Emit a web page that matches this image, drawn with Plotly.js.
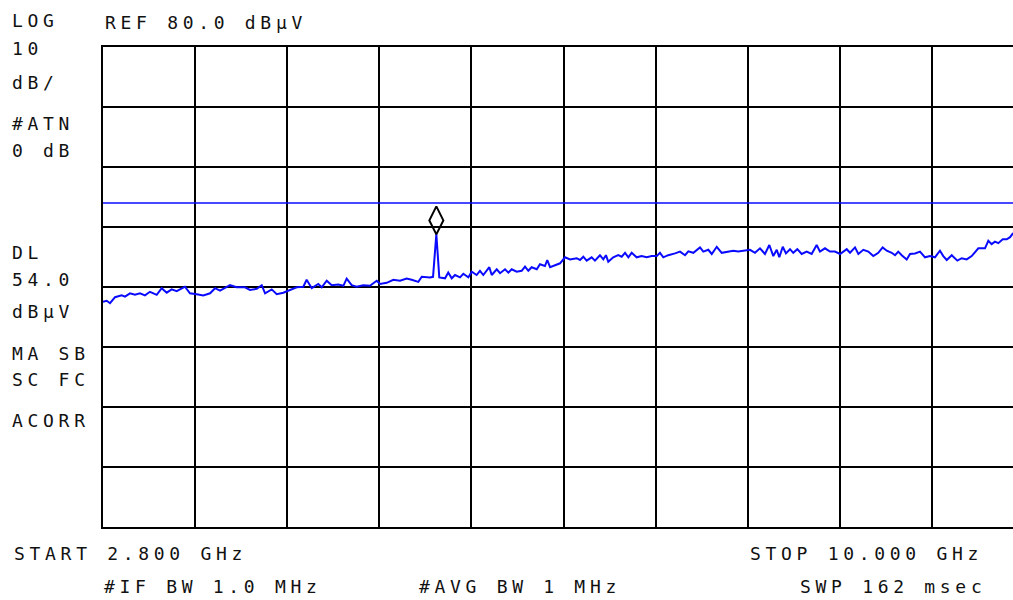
<!DOCTYPE html>
<html>
<head>
<meta charset="utf-8">
<script src="https://cdn.plot.ly/plotly-3.0.1.min.js"></script>
<style>html,body{margin:0;padding:0;background:#fff;}#chart{width:1013px;height:600px;}</style>
</head>
<body>
<div id="chart"></div>
<script>
// ---- instrument settings ----
const startGHz = 2.8;
const stopGHz = 10.0;
const refLevel = 80;     // dBuV, top of screen
const dbPerDiv = 10;
const displayLine = 54.0; // dBuV

// ---- trace ----
const freqGHz = [
2.800,2.829,2.855,2.894,2.946,2.972,3.011,3.050,3.089,3.128,3.167,3.220,3.259,3.298,3.337,3.376,
3.441,3.480,3.533,3.584,3.637,3.676,3.715,3.793,3.845,3.910,3.949,4.002,4.041,4.067,4.119,4.158,
4.210,4.262,4.314,4.366,4.392,4.432,4.483,4.510,4.549,4.588,4.640,4.679,4.705,4.744,4.783,4.835,
4.887,4.940,4.966,5.018,5.070,5.122,5.174,5.213,5.265,5.292,5.356,5.380,5.406,5.429,5.474,5.499,
5.526,5.552,5.591,5.617,5.656,5.682,5.721,5.747,5.773,5.820,5.839,5.878,5.904,5.943,5.969,5.995,
6.034,6.073,6.099,6.125,6.151,6.191,6.216,6.255,6.273,6.295,6.334,6.373,6.412,6.451,6.503,6.529,
6.555,6.581,6.620,6.646,6.685,6.711,6.732,6.750,6.789,6.828,6.855,6.881,6.907,6.933,6.972,7.011,
7.050,7.090,7.129,7.154,7.180,7.219,7.272,7.311,7.350,7.376,7.415,7.467,7.493,7.532,7.559,7.598,
7.637,7.676,7.702,7.727,7.766,7.806,7.858,7.897,7.936,7.975,8.009,8.040,8.067,8.087,8.114,8.139,
8.171,8.196,8.228,8.262,8.301,8.340,8.379,8.405,8.444,8.483,8.522,8.562,8.614,8.640,8.679,8.705,
8.744,8.783,8.822,8.861,8.895,8.927,8.966,8.992,9.017,9.044,9.083,9.109,9.148,9.187,9.226,9.265,
9.304,9.343,9.369,9.396,9.435,9.479,9.513,9.552,9.591,9.643,9.695,9.721,9.747,9.773,9.799,9.834,
9.865,9.891,9.912,9.960
];
const levelDbuV = [
37.55,37.7,37.3,38.3,38.6,38.4,38.95,38.7,38.95,38.6,39.2,38.7,39.8,39.05,39.6,39.3,
40.05,38.95,38.8,38.6,38.95,39.8,39.4,40.3,39.95,39.95,39.5,39.7,40.3,38.95,39.6,38.8,
39.05,39.5,39.95,40.05,41.2,39.8,40.5,39.95,41.05,40.3,40.4,40.2,41.4,40.3,40.05,40.3,
40.2,41.05,40.5,40.7,41.2,41.05,41.4,41.2,40.85,41.7,41.6,41.7,48.8,41.6,41.45,42.4,
41.45,42.0,41.6,42.2,41.6,42.55,42.0,42.7,42.0,43.3,42.0,42.95,42.3,42.95,42.4,42.95,
42.55,42.7,43.4,42.7,43.3,42.95,43.8,43.5,44.5,43.3,43.65,43.95,44.95,44.6,44.8,44.5,
45.05,44.4,44.95,44.4,45.3,44.6,45.3,44.2,44.95,45.3,45.05,45.7,44.95,45.7,44.95,45.15,
44.95,45.15,45.15,45.7,44.95,45.3,45.6,45.9,45.3,45.95,45.7,46.6,45.9,46.2,45.5,46.7,
45.7,45.9,46.05,46.05,45.9,46.05,46.2,45.7,46.45,45.5,47.0,45.15,46.2,44.95,46.7,45.6,
46.3,45.7,46.3,45.5,45.9,45.5,47.0,45.9,46.45,45.9,45.9,45.5,46.3,45.7,46.6,45.5,
46.2,45.9,45.15,45.7,46.6,46.05,45.7,45.3,45.9,45.3,44.6,45.5,45.6,45.9,44.95,45.15,
44.95,46.05,45.15,44.5,45.3,44.4,44.8,44.6,45.15,46.45,46.45,47.7,47.15,47.55,47.3,47.95,
47.95,48.3,48.9,49.3
];
// marker on the signal peak
const markerFreqGHz = [5.406];
const markerLevel = [51.1];

// ---- screen annotations ----
const leftLabels = ["LOG","10","dB/","#ATN","0 dB","DL","54.0","dBµV","MA SB","SC FC","ACORR"];
const leftLabelY = [21,48,83,123,150,252,279,311,353,379,420];
const topLabel = "REF 80.0 dBµV";
const bottomRow1 = ["START 2.800 GHz","STOP 10.000 GHz"];
const bottomRow1X = [12,748];
const bottomRow2 = ["#IF BW 1.0 MHz","#AVG BW 1 MHz","SWP 162 msec"];
const bottomRow2X = [102,417,798];

// ---- geometry (pixels) ----
const W = 1013, H = 600;
const L = 103, T = 47, B = 527;   // plot box
const plotW = W - L, plotH = B - T;
const divPx = 92.1;               // one horizontal division in pixels
const spanGHz = stopGHz - startGHz;
const visibleStop = startGHz + spanGHz * plotW / (divPx * 10);

const px2x = p => (p - L) / plotW;
const py2y = p => (B - p) / plotH;
const FONT = {family: "DejaVu Sans Mono, monospace", size: 18, color: "#111"};
const sp = s => '<span style="letter-spacing:4.7px">' + s + '</span>';

const annotations = [];
function addText(txt, xpx, ypx) {
  annotations.push({text: sp(txt), xref: "paper", yref: "paper", x: px2x(xpx), y: py2y(ypx),
    xanchor: "left", yanchor: "middle", showarrow: false, font: FONT, align: "left"});
}
leftLabels.forEach((t, i) => addText(t, 10, leftLabelY[i]));
addText(topLabel, 103, 22);
bottomRow1.forEach((t, i) => addText(t, bottomRow1X[i], 553));
bottomRow2.forEach((t, i) => addText(t, bottomRow2X[i], 586));

const traces = [
  {x: freqGHz, y: levelDbuV, type: "scatter", mode: "lines",
   line: {color: "#0a0aff", width: 2}, hoverinfo: "skip"},
  {x: [startGHz, stopGHz], y: [displayLine, displayLine], type: "scatter", mode: "lines",
   line: {color: "#0a0aff", width: 1.5}, hoverinfo: "skip"},
  {x: markerFreqGHz, y: markerLevel, type: "scatter", mode: "markers",
   marker: {symbol: "diamond-tall-open", size: 20, color: "#000", line: {width: 2, color: "#000"}},
   hoverinfo: "skip"}
];

const layout = {
  width: W, height: H, autosize: false,
  margin: {l: L, r: 0, t: T, b: H - B, pad: 0},
  paper_bgcolor: "#fff", plot_bgcolor: "#fff",
  showlegend: false,
  xaxis: {range: [startGHz, visibleStop], tick0: startGHz, dtick: spanGHz / 10,
    showgrid: true, gridcolor: "#000", gridwidth: 2, zeroline: false,
    showline: true, linecolor: "#000", linewidth: 2, mirror: true,
    showticklabels: false, ticks: "", fixedrange: true},
  yaxis: {range: [refLevel - 8 * dbPerDiv, refLevel], tick0: 0, dtick: dbPerDiv,
    showgrid: true, gridcolor: "#000", gridwidth: 2, zeroline: false,
    showline: true, linecolor: "#000", linewidth: 2,
    showticklabels: false, ticks: "", fixedrange: true},
  annotations: annotations
};

Plotly.newPlot("chart", traces, layout, {staticPlot: true, displayModeBar: false});
</script>
</body>
</html>
